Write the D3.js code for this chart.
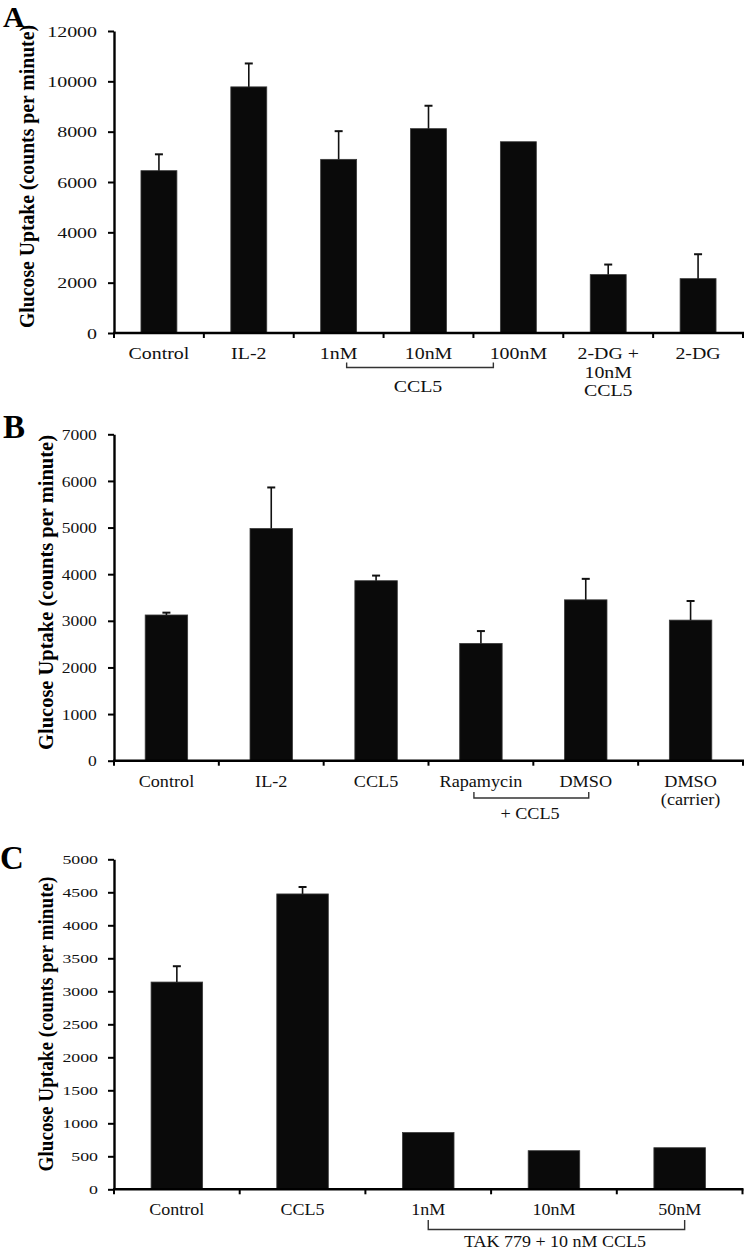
<!DOCTYPE html>
<html><head><meta charset="utf-8">
<script src="https://cdn.jsdelivr.net/npm/d3@7"></script>
<style>body{margin:0;background:#fff}svg{display:block}</style>
</head><body>
<svg id="chart" width="745" height="1250"></svg>
<script>
// ---------- DATA ----------
const catsA = ["Control", "IL-2", "1nM", "10nM", "100nM", "2-DG + 10nM CCL5", "2-DG"];
const labelLinesA = [["Control"], ["IL-2"], ["1nM"], ["10nM"], ["100nM"], ["2-DG +", "10nM", "CCL5"], ["2-DG"]];
const valuesA = [6450, 9780, 6900, 8120, 7600, 2320, 2160];
const errorsA = [650, 930, 1120, 910, 0, 400, 970];
const ticksA = [0, 2000, 4000, 6000, 8000, 10000, 12000];

const catsB = ["Control", "IL-2", "CCL5", "Rapamycin", "DMSO", "DMSO (carrier)"];
const labelLinesB = [["Control"], ["IL-2"], ["CCL5"], ["Rapamycin"], ["DMSO"], ["DMSO", "(carrier)"]];
const valuesB = [3125, 4980, 3860, 2515, 3450, 3015];
const errorsB = [50, 880, 110, 265, 450, 410];
const ticksB = [0, 1000, 2000, 3000, 4000, 5000, 6000, 7000];

const catsC = ["Control", "CCL5", "1nM", "10nM", "50nM"];
const labelLinesC = [["Control"], ["CCL5"], ["1nM"], ["10nM"], ["50nM"]];
const valuesC = [3140, 4475, 860, 585, 630];
const errorsC = [240, 105, 0, 0, 0];
const ticksC = [0, 500, 1000, 1500, 2000, 2500, 3000, 3500, 4000, 4500, 5000];

const yTitle = "Glucose Uptake (counts per minute)";
const groupLabelA = "CCL5";
const groupLabelB = "+ CCL5";
const groupLabelC = "TAK 779 + 10 nM CCL5";

// ---------- DRAW ----------
const svg = d3.select("#chart");
const SERIF = "'Liberation Serif','Times New Roman',Times,serif";

function panel(cfg) {
  const g = svg.append("g");
  const x = d3.scaleBand().domain(cfg.cats).range([cfg.x0, cfg.x1])
    .paddingInner(cfg.pad).paddingOuter(cfg.pad / 2);
  const y = d3.scaleLinear().domain([0, cfg.max]).range([cfg.yBottom, cfg.yTop]);
  const cx = c => x(c) + x.bandwidth() / 2;

  // panel letter
  g.append("text").attr("x", cfg.letterX).attr("y", cfg.letterY)
    .attr("font-family", SERIF).attr("font-weight", "bold").attr("font-size", cfg.letterSize)
    .text(cfg.letter);

  // bars
  g.selectAll("rect.bar").data(cfg.cats).join("rect").attr("class", "bar")
    .attr("x", d => x(d)).attr("width", x.bandwidth())
    .attr("y", (d, i) => y(cfg.values[i]))
    .attr("height", (d, i) => y(0) - y(cfg.values[i]))
    .attr("fill", "#0a0a0a").attr("stroke", "#3a3a3a").attr("stroke-width", 0.8);

  // error bars (upper only)
  const errs = cfg.cats.map((c, i) => ({c, v: cfg.values[i], e: cfg.errors[i]})).filter(d => d.e > 0);
  g.selectAll("line.err").data(errs).join("line").attr("class", "err")
    .attr("x1", d => cx(d.c)).attr("x2", d => cx(d.c))
    .attr("y1", d => y(d.v)).attr("y2", d => y(d.v + d.e))
    .attr("stroke", "#111").attr("stroke-width", 1.6);
  g.selectAll("line.cap").data(errs).join("line").attr("class", "cap")
    .attr("x1", d => cx(d.c) - 4).attr("x2", d => cx(d.c) + 4)
    .attr("y1", d => y(d.v + d.e)).attr("y2", d => y(d.v + d.e))
    .attr("stroke", "#111").attr("stroke-width", 2);

  // y axis
  const ya = g.append("g").attr("transform", `translate(${cfg.x0},0)`)
    .call(d3.axisLeft(y).tickValues(cfg.ticks).tickSize(6).tickSizeOuter(0).tickFormat(d3.format("d")));
  ya.select(".domain").attr("stroke", "#000").attr("stroke-width", 2.4);
  ya.selectAll(".tick line").attr("stroke", "#000").attr("stroke-width", 2);
  ya.selectAll(".tick text")
    .attr("font-family", SERIF).attr("font-size", cfg.tickFont).attr("fill", "#111")
    .attr("x", -cfg.tickOff / cfg.tickSx).attr("dy", "0.34em")
    .attr("transform", `scale(${cfg.tickSx},1)`);

  // x axis line + boundary ticks
  const step = x.step();
  const bounds = d3.range(cfg.cats.length + 1).map(i => cfg.x0 + i * step);
  g.append("line").attr("x1", cfg.x0 - 1).attr("x2", cfg.x1 + 1)
    .attr("y1", y(0)).attr("y2", y(0)).attr("stroke", "#000").attr("stroke-width", 2.4);
  g.selectAll("line.xt").data(bounds).join("line").attr("class", "xt")
    .attr("x1", d => d).attr("x2", d => d).attr("y1", y(0)).attr("y2", y(0) + 5)
    .attr("stroke", "#000").attr("stroke-width", 2);

  // category labels
  cfg.cats.forEach((c, i) => {
    const lg = g.append("g")
      .attr("transform", `translate(${cx(c)},${y(0) + 26}) scale(${cfg.labSx},1)`);
    cfg.lines[i].forEach((t, j) => {
      lg.append("text").attr("x", 0).attr("y", j * cfg.lineGap)
        .attr("text-anchor", "middle").attr("font-family", SERIF)
        .attr("font-size", 17).attr("fill", "#111").text(t);
    });
  });

  // group bracket
  const bx1 = cx(cfg.br.from) + cfg.br.dx1, bx2 = cx(cfg.br.to) + cfg.br.dx2;
  g.append("path")
    .attr("d", `M${bx1},${cfg.br.yTop}V${cfg.br.yLine}H${bx2}V${cfg.br.yTop}`)
    .attr("fill", "none").attr("stroke", "#333").attr("stroke-width", 1.4);
  g.append("g").attr("transform", `translate(${cfg.br.lx},${cfg.br.ly}) scale(${cfg.labSx},1)`)
    .append("text").attr("text-anchor", "middle").attr("font-family", SERIF)
    .attr("font-size", 17).attr("fill", "#111").text(cfg.br.label);

  // y title
  g.append("text")
    .attr("transform", `translate(${cfg.titleX},${cfg.titleY}) rotate(-90)`)
    .attr("text-anchor", "middle").attr("font-family", SERIF).attr("font-weight", "bold")
    .attr("font-size", 20).attr("textLength", cfg.titleLen).attr("lengthAdjust", "spacingAndGlyphs")
    .text(yTitle);
}

panel({
  letter: "A", letterX: 3, letterY: 27, letterSize: 30,
  cats: catsA, lines: labelLinesA, values: valuesA, errors: errorsA, ticks: ticksA, max: 12000,
  x0: 114, x1: 743, pad: 0.6, yBottom: 333, yTop: 31,
  tickFont: 15, tickSx: 1.33, tickOff: 17, labSx: 1.17, lineGap: 18.7,
  titleX: 33.5, titleY: 176.5, titleLen: 303,
  br: {from: "1nM", to: "100nM", dx1: 8, dx2: -25, yTop: 362.5, yLine: 367.5,
       label: groupLabelA, lx: 418, ly: 391.7}
});

panel({
  letter: "B", letterX: 3, letterY: 438, letterSize: 33,
  cats: catsB, lines: labelLinesB, values: valuesB, errors: errorsB, ticks: ticksB, max: 7000,
  x0: 114, x1: 743, pad: 0.595, yBottom: 760.7, yTop: 434.3,
  tickFont: 15, tickSx: 1.17, tickOff: 17.3, labSx: 1.07, lineGap: 18.5,
  titleX: 53.3, titleY: 592.5, titleLen: 315,
  br: {from: "Rapamycin", to: "DMSO", dx1: -7, dx2: 3, yTop: 792, yLine: 798,
       label: groupLabelB, lx: 530, ly: 819}
});

panel({
  letter: "C", letterX: 0, letterY: 869, letterSize: 33,
  cats: catsC, lines: labelLinesC, values: valuesC, errors: errorsC, ticks: ticksC, max: 5000,
  x0: 114, x1: 742.5, pad: 0.59, yBottom: 1189.3, yTop: 859.3,
  tickFont: 13.5, tickSx: 1.32, tickOff: 16, labSx: 1.06, lineGap: 18.5,
  titleX: 53.3, titleY: 1024, titleLen: 295,
  br: {from: "1nM", to: "50nM", dx1: 0, dx2: 5, yTop: 1220, yLine: 1229.5,
       label: groupLabelC, lx: 555, ly: 1247}
});
</script>
</body></html>
